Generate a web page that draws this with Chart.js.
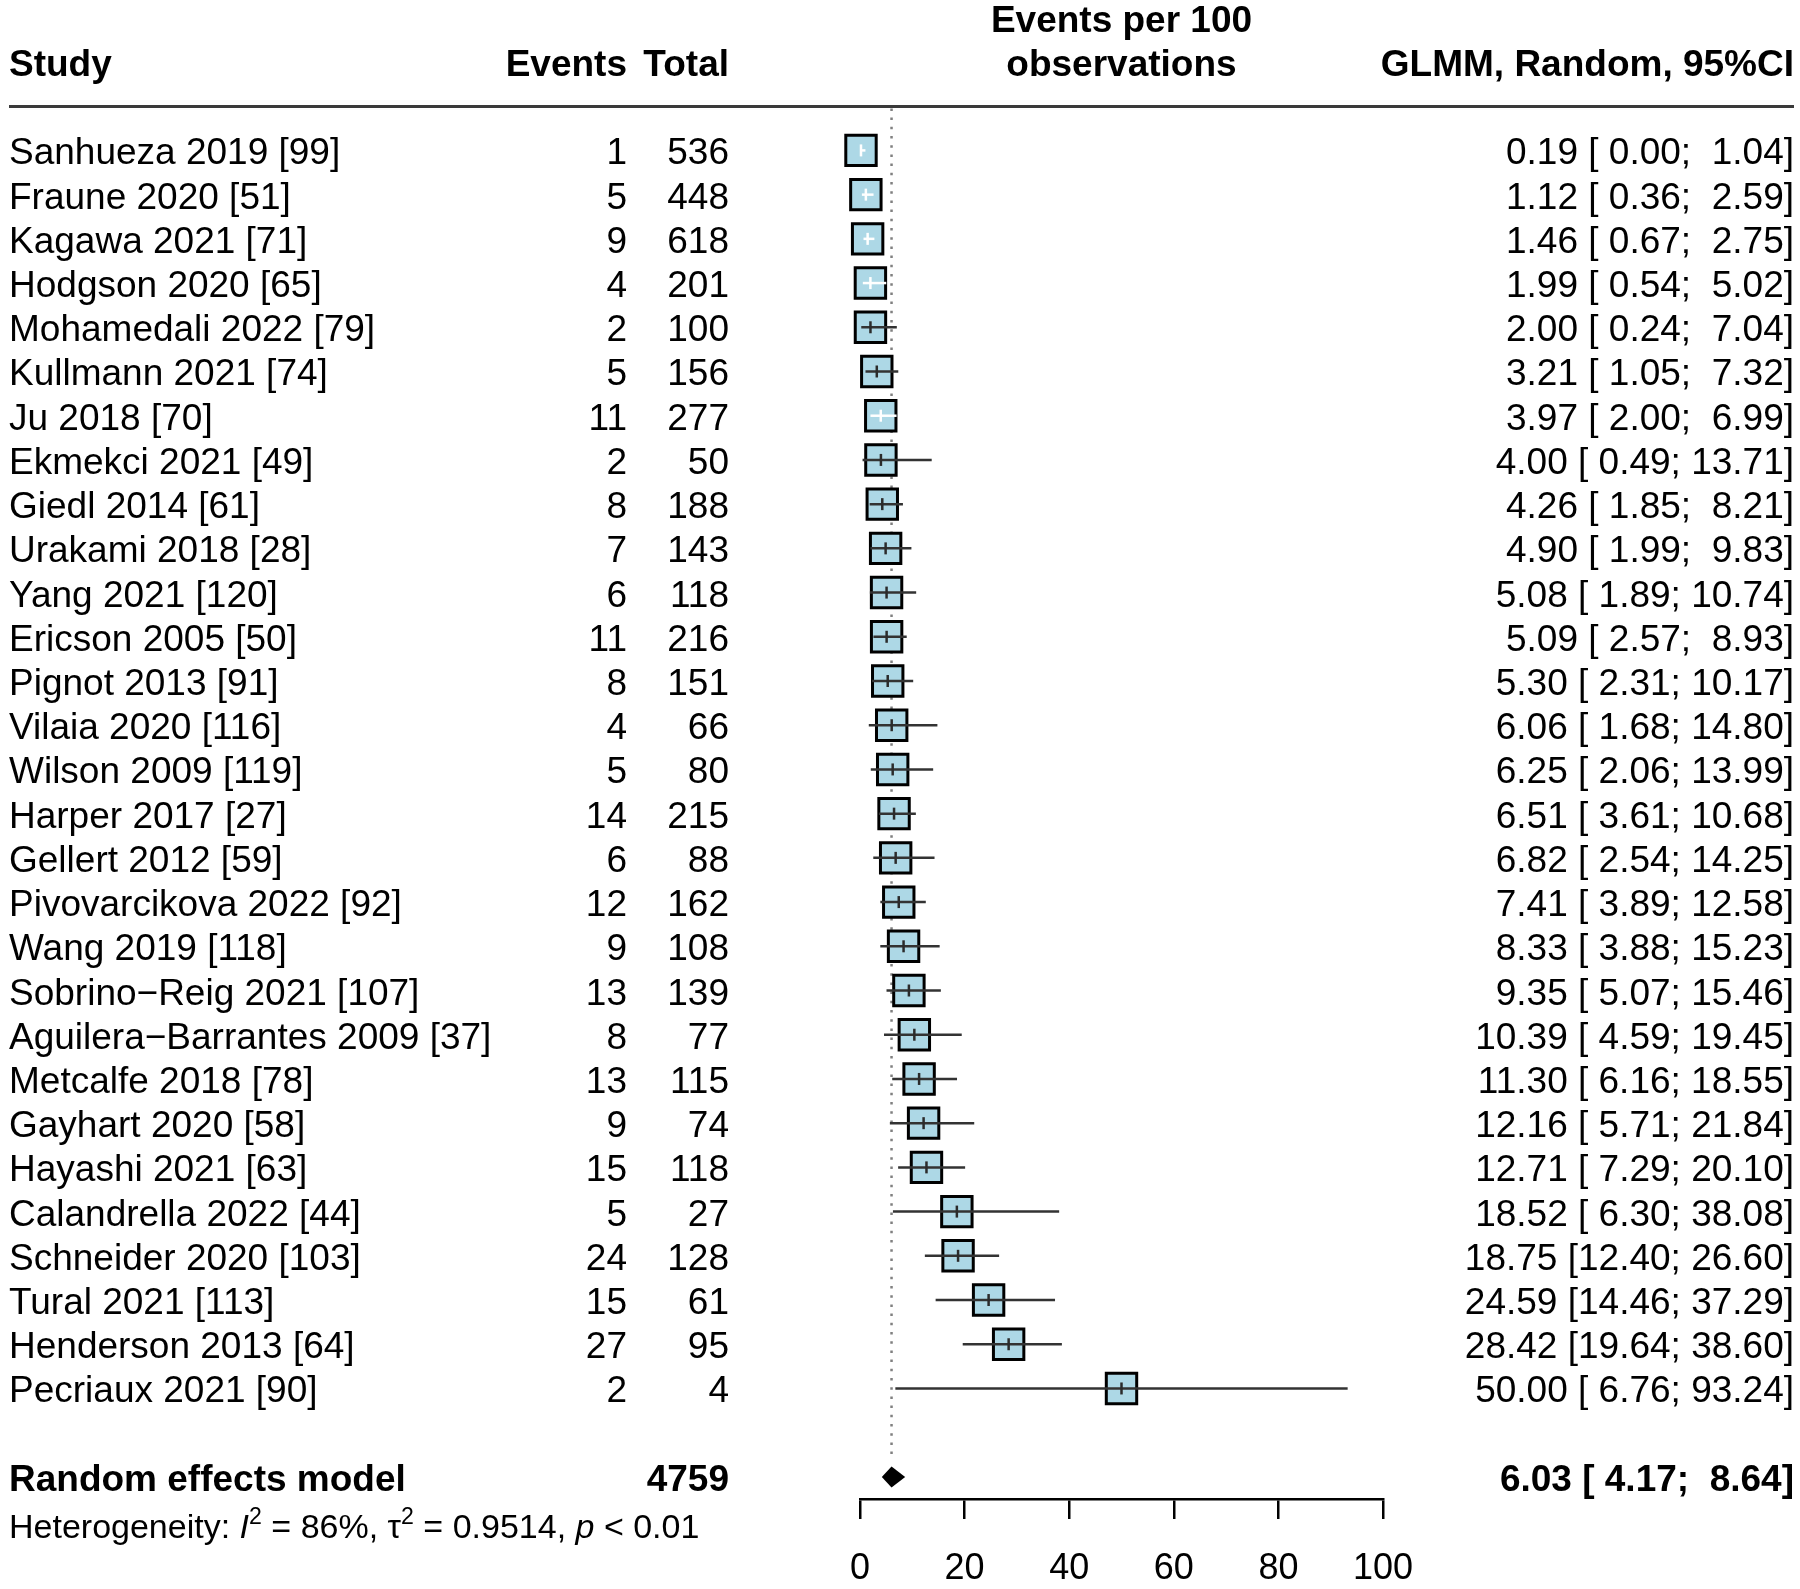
<!DOCTYPE html>
<html lang="en">
<head>
<meta charset="UTF-8">
<title>Events per 100 observations - forest plot</title>
<script src="https://cdn.jsdelivr.net/npm/chart.js"></script>
<style>
  body { margin: 0; background: #fff; font-family: 'Liberation Sans', Arial, sans-serif; color: #000; }
  #wrap { position: relative; width: 1800px; height: 1589px; overflow: hidden; }
  #chart { position: absolute; left: 0; top: 0; }
  .t { position: absolute; font-size: 37px; line-height: 40px; white-space: pre; }
  .b { font-weight: bold; }
  .small { font-size: 34px; }
  .t sup { font-size: 0.68em; line-height: 0; vertical-align: 0.62em; }
  #rule { position: absolute; left: 9px; top: 105px; width: 1785px; height: 3px; background: #3a3a3a; }
</style>
</head>
<body>
<div id="wrap">
  <canvas id="chart" width="1800" height="1589"></canvas>
  <div id="rule"></div>
</div>
<script>
const studies = [
  'Sanhueza 2019 [99]', 'Fraune 2020 [51]', 'Kagawa 2021 [71]', 'Hodgson 2020 [65]',
  'Mohamedali 2022 [79]', 'Kullmann 2021 [74]', 'Ju 2018 [70]', 'Ekmekci 2021 [49]',
  'Giedl 2014 [61]', 'Urakami 2018 [28]', 'Yang 2021 [120]', 'Ericson 2005 [50]',
  'Pignot 2013 [91]', 'Vilaia 2020 [116]', 'Wilson 2009 [119]', 'Harper 2017 [27]',
  'Gellert 2012 [59]', 'Pivovarcikova 2022 [92]', 'Wang 2019 [118]', 'Sobrino\u2212Reig 2021 [107]',
  'Aguilera\u2212Barrantes 2009 [37]', 'Metcalfe 2018 [78]', 'Gayhart 2020 [58]', 'Hayashi 2021 [63]',
  'Calandrella 2022 [44]', 'Schneider 2020 [103]', 'Tural 2021 [113]', 'Henderson 2013 [64]',
  'Pecriaux 2021 [90]'
];
const events = [1, 5, 9, 4, 2, 5, 11, 2, 8, 7, 6, 11, 8, 4, 5, 14, 6, 12, 9, 13, 8, 13, 9, 15, 5, 24, 15, 27, 2];
const totals = [536, 448, 618, 201, 100, 156, 277, 50, 188, 143, 118, 216, 151, 66, 80, 215, 88, 162, 108, 139, 77, 115, 74, 118, 27, 128, 61, 95, 4];
const est = [0.19, 1.12, 1.46, 1.99, 2.00, 3.21, 3.97, 4.00, 4.26, 4.90, 5.08, 5.09, 5.30, 6.06, 6.25,
  6.51, 6.82, 7.41, 8.33, 9.35, 10.39, 11.30, 12.16, 12.71, 18.52, 18.75, 24.59, 28.42, 50.00];
const lower = [0.00, 0.36, 0.67, 0.54, 0.24, 1.05, 2.00, 0.49, 1.85, 1.99, 1.89, 2.57, 2.31, 1.68, 2.06,
  3.61, 2.54, 3.89, 3.88, 5.07, 4.59, 6.16, 5.71, 7.29, 6.30, 12.40, 14.46, 19.64, 6.76];
const upper = [1.04, 2.59, 2.75, 5.02, 7.04, 7.32, 6.99, 13.71, 8.21, 9.83, 10.74, 8.93, 10.17, 14.80, 13.99,
  10.68, 14.25, 12.58, 15.23, 15.46, 19.45, 18.55, 21.84, 20.10, 38.08, 26.60, 37.29, 38.60, 93.24];

const pooledEst = 6.03, pooledLo = 4.17, pooledHi = 8.64, pooledTotal = 4759;
const xTicks = [0, 20, 40, 60, 80, 100];

const rows = studies.map((s, i) => i + 1);
const pooledRow = studies.length + 2;
const BOX_HALF = 16;

function fmt(v) { return v.toFixed(2); }
function pad(s, n) { while (s.length < n) s = ' ' + s; return s; }
function ciText(e, l, h) { return fmt(e) + ' [' + pad(fmt(l), 5) + '; ' + pad(fmt(h), 5) + ']'; }

// CI completely inside the box -> drawn white (like meta::forest)
function ciInside(i, scale) {
  const c = scale.getPixelForValue(est[i]);
  return c - scale.getPixelForValue(lower[i]) <= BOX_HALF && scale.getPixelForValue(upper[i]) - c <= BOX_HALF;
}

const ciData = [];
studies.forEach((s, i) => {
  ciData.push({ x: lower[i], y: rows[i] });
  ciData.push({ x: upper[i], y: rows[i] });
  ciData.push({ x: NaN, y: NaN });
});

const diamondPlugin = {
  id: 'diamond',
  afterDatasetsDraw(chart) {
    const { ctx, scales: { x, y } } = chart;
    const yc = y.getPixelForValue(pooledRow);
    ctx.save();
    ctx.beginPath();
    ctx.moveTo(x.getPixelForValue(pooledLo), yc);
    ctx.lineTo(x.getPixelForValue(pooledEst), yc - 10.5);
    ctx.lineTo(x.getPixelForValue(pooledHi), yc);
    ctx.lineTo(x.getPixelForValue(pooledEst), yc + 10.5);
    ctx.closePath();
    ctx.fillStyle = '#000';
    ctx.fill();
    ctx.restore();
  }
};

Chart.defaults.font.family = "'Liberation Sans', Arial, sans-serif";

const chart = new Chart(document.getElementById('chart'), {
  type: 'scatter',
  data: {
    datasets: [{
      // point estimate ticks
      data: est.map((v, i) => ({ x: v, y: rows[i] })),
      pointStyle: 'line',
      pointRotation: 90,
      pointRadius: 6,
      pointBorderWidth: 2.5,
      pointBorderColor: ctx => ciInside(ctx.dataIndex, ctx.chart.scales.x) ? '#fff' : '#2b2b2b',
      clip: false,
      order: 1
    }, {
      // confidence intervals
      data: ciData,
      showLine: true,
      spanGaps: false,
      pointRadius: 0,
      borderWidth: 2.5,
      borderColor: '#333',
      segment: {
        borderColor: ctx => {
          const i = Math.floor(ctx.p0DataIndex / 3);
          const k = (ctx.p1.x - ctx.p0.x) / (upper[i] - lower[i]);
          const inside = (est[i] - lower[i]) * k <= BOX_HALF && (upper[i] - est[i]) * k <= BOX_HALF;
          return inside ? '#fff' : '#333';
        }
      },
      clip: false,
      order: 2
    }, {
      // study boxes
      data: est.map((v, i) => ({ x: v, y: rows[i] })),
      pointStyle: 'rect',
      pointRadius: 21.5,
      pointBackgroundColor: '#add8e6',
      pointBorderColor: '#000',
      pointBorderWidth: 3,
      clip: false,
      order: 3
    }, {
      // reference line at pooled estimate
      data: [{ x: pooledEst, y: 0.05 }, { x: pooledEst, y: pooledRow - 0.4 }],
      showLine: true,
      pointRadius: 0,
      borderColor: '#808080',
      borderWidth: 2.5,
      borderDash: [2.5, 6.7],
      clip: false,
      order: 4
    }]
  },
  options: {
    responsive: false,
    animation: false,
    events: [],
    layout: { padding: { left: 860, right: 417, top: 106.2, bottom: 0 } },
    plugins: { legend: { display: false }, tooltip: { enabled: false } },
    scales: {
      x: {
        type: 'linear',
        min: 0,
        max: 100,
        afterBuildTicks: s => { s.ticks = xTicks.map(v => ({ value: v })); },
        afterFit: s => { s.height = 90; },
        grid: { drawOnChartArea: false, drawTicks: true, tickLength: 20, color: '#000', lineWidth: 2.5 },
        border: { display: true, color: '#000', width: 2.5 },
        ticks: { color: '#000', font: { size: 36 }, padding: 28, maxRotation: 0 }
      },
      y: {
        type: 'linear',
        display: false,
        reverse: true,
        min: 0,
        max: 31.5
      }
    }
  },
  plugins: [diamondPlugin]
});

// table text, placed on the chart's own y scale
const wrap = document.getElementById('wrap');
function addText(txt, x, y, cls, align, html) {
  const d = document.createElement('div');
  d.className = 't ' + (cls || '');
  if (html) d.innerHTML = txt; else d.textContent = txt;
  d.style.top = (y - 18) + 'px';
  if (align === 'right') d.style.right = (1800 - x) + 'px';
  else if (align === 'center') { d.style.left = (x - 300) + 'px'; d.style.width = '600px'; d.style.textAlign = 'center'; }
  else d.style.left = x + 'px';
  wrap.appendChild(d);
}

const ys = chart.scales.y, xs = chart.scales.x;
const midX = (xs.getPixelForValue(0) + xs.getPixelForValue(100)) / 2;

addText('Study', 9, 62, 'b');
addText('Events', 627, 62, 'b', 'right');
addText('Total', 729, 62, 'b', 'right');
addText('Events per 100', midX, 18, 'b', 'center');
addText('observations', midX, 62, 'b', 'center');
addText('GLMM, Random, 95%CI', 1794, 62, 'b', 'right');

studies.forEach((s, i) => {
  const y = ys.getPixelForValue(rows[i]);
  addText(s, 9, y);
  addText(String(events[i]), 627, y, '', 'right');
  addText(String(totals[i]), 729, y, '', 'right');
  addText(ciText(est[i], lower[i], upper[i]), 1794, y, '', 'right');
});

const yp = ys.getPixelForValue(pooledRow);
addText('Random effects model', 9, yp, 'b');
addText(String(pooledTotal), 729, yp, 'b', 'right');
addText(ciText(pooledEst, pooledLo, pooledHi), 1794, yp, 'b', 'right');
addText('Heterogeneity: <i>I</i><sup>2</sup> = 86%, \u03c4<sup>2</sup> = 0.9514, <i>p</i> &lt; 0.01', 9, yp + 47, 'small', 'left', true);
</script>
</body>
</html>
